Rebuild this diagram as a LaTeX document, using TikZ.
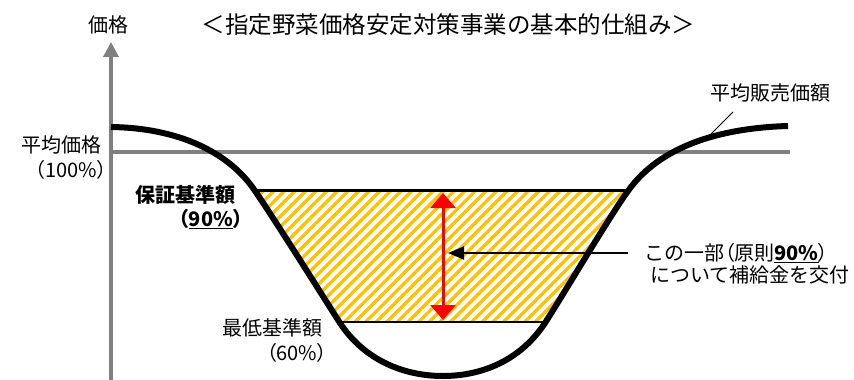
\documentclass[tikz,border=0pt]{standalone}
\usepackage{fontspec}
\newfontfamily\jp{Noto Sans CJK JP}
\usetikzlibrary{arrows.meta,patterns.meta}
\definecolor{axisgray}{HTML}{808080}
\definecolor{hatch}{HTML}{FFC000}
\definecolor{subsidy}{HTML}{FF0000}
% narrow brackets
\newcommand\lpar{{\addfontfeatures{RawFeature=+palt}（}}
\newcommand\rpar{{\addfontfeatures{RawFeature=+palt}）}}
% price curve of the bowl
\def\bowl{(111,127) .. controls (180,128) and (228,153) .. (253,188)
  .. controls (270,212) and (322,295) .. (340,323)
  .. controls (365,361) and (405,376) .. (443,376)
  .. controls (481,376) and (520,361) .. (545,323)
  .. controls (563,295) and (611,214) .. (628,191)
  .. controls (660,146) and (720,128) .. (788,126)}

\begin{document}
\begin{tikzpicture}[x=1pt,y=-1pt,
  lbl/.style={font=\jp\fontsize{20}{22}\selectfont,inner sep=0pt},
  bl/.style={font=\jp\bfseries\fontsize{20}{22}\selectfont,inner sep=0pt},
  ttl/.style={font=\jp\fontsize{23.5}{26}\selectfont,inner sep=0pt},
  ax/.style={-{Triangle[length=15pt,width=15pt]},line width=3.5pt,draw=axisgray},
  lvl/.style={line width=2.5pt,draw=black},
  ra/.style={{Triangle[length=15pt,width=25pt]}-{Triangle[length=15pt,width=25pt]},line width=3pt,draw=subsidy},
  pa/.style={-{Triangle[length=16pt,width=13pt]},line width=2pt,draw=black}
]
\useasboundingbox (0,0) rectangle (854,380);
\fill[white] (0,0) rectangle (854,380);

% axis and average price
\coordinate (o) at (111,380);
\coordinate (top) at (111,42);
\draw[ax] (o) -- (top);
\draw[line width=3.5pt,draw=axisgray] (111,152) -- (790,152);

% hatched band between the two levels
\begin{scope}
  \clip \bowl -- (788,0) -- (111,0) -- cycle;
  \fill[pattern={Lines[angle=45,distance=7.5pt,line width=3.3pt]},pattern color=hatch]
    (200,190.5) rectangle (700,322);
  \draw[lvl] (200,190.5) -- (700,190.5);
  \draw[lvl] (200,322) -- (700,322);
\end{scope}

\draw[line width=6pt] \bowl;

% arrows
\coordinate (hi) at (443,193);
\coordinate (lo) at (443,320);
\draw[ra] (hi) -- (lo);
\coordinate (ps) at (628,253);
\coordinate (pe) at (448,253);
\draw[pa] (ps) -- (pe);

% labels
\node[lbl] (yl) at (108,25) {価格};
\node[ttl] (title) at (448.5,25) {＜指定野菜価格安定対策事業の基本的仕組み＞};
\node[lbl] (avg) at (61,145) {平均価格};
\node[lbl] (avgp) at (71,170) {\lpar 100\%\rpar};
\node[bl] (gua) at (185.5,195) {保証基準額};
\node[bl] (guap) at (211,219) {\lpar\underline{90\%}\rpar};
\node[lbl] (low) at (272.5,328) {最低基準額};
\node[lbl] (lowp) at (297,353) {\lpar 60\%\rpar};
\node[lbl] (sales) at (770.5,93) {平均販売価額};
\node[lbl] (sub1) at (736.5,253) {この一部\lpar 原則\underline{\textbf{90\%}}\rpar};
\node[lbl] (sub2) at (750,275) {について補給金を交付};

\coordinate (sa) at (733,112);
\coordinate (sb) at (708,137);
\draw[line width=1pt] (sa) -- (sb);
\end{tikzpicture}
\end{document}
